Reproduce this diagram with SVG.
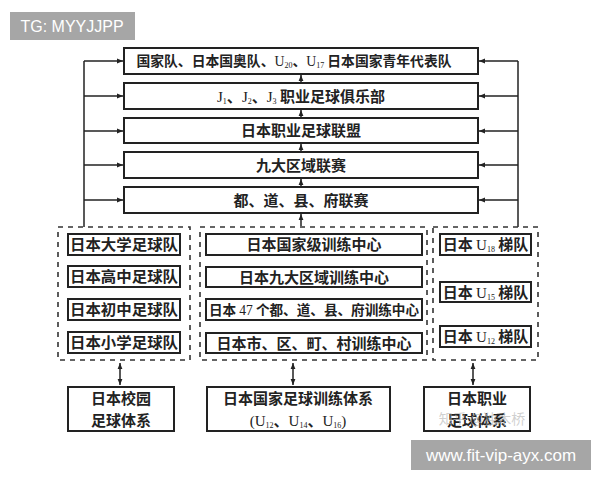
<svg xmlns="http://www.w3.org/2000/svg" width="600" height="480" viewBox="0 0 600 480">
<defs>
<marker id="ah" viewBox="0 0 10 10" refX="10" refY="5" markerWidth="6" markerHeight="6" orient="auto-start-reverse" markerUnits="userSpaceOnUse">
<path d="M0,1 L10,5 L0,9 Z" fill="#222"/>
</marker>
</defs>
<style>
.box{fill:#fff;stroke:#222;stroke-width:2}
.dash{fill:none;stroke:#333;stroke-width:1.6;stroke-dasharray:5,5}
.ln{fill:none;stroke:#222;stroke-width:1.5}
.t{font-family:"Noto Sans CJK SC","Noto Sans",sans-serif;font-weight:700;font-size:15px;fill:#222;text-anchor:middle}
.s{font-family:"Liberation Serif",serif;font-weight:400}
.sub{font-family:"Liberation Serif",serif;font-weight:400;font-size:8px}
</style>
<rect width="600" height="480" fill="#fff"/>
<g id="tg">
<rect x="10" y="12" width="125" height="28" fill="#a6a6a6"/>
<text x="72" y="32" font-family="Liberation Sans,Arial,sans-serif" font-size="16" fill="#fff" text-anchor="middle">TG: MYYJJPP</text>
</g>
<g id="connectors">
<path class="ln" d="M84,227 V61"/>
<path class="ln" d="M84,61 H123" marker-end="url(#ah)"/>
<path class="ln" d="M84,96 H123" marker-end="url(#ah)"/>
<path class="ln" d="M84,131 H123" marker-end="url(#ah)"/>
<path class="ln" d="M84,165 H123" marker-end="url(#ah)"/>
<path class="ln" d="M84,200 H123" marker-end="url(#ah)"/>
<path class="ln" d="M518,227 V61"/>
<path class="ln" d="M518,61 H479" marker-end="url(#ah)"/>
<path class="ln" d="M518,96 H479" marker-end="url(#ah)"/>
<path class="ln" d="M518,131 H479" marker-end="url(#ah)"/>
<path class="ln" d="M518,165 H479" marker-end="url(#ah)"/>
<path class="ln" d="M518,200 H479" marker-end="url(#ah)"/>
<path class="ln" d="M301,83 V75" marker-end="url(#ah)"/>
<path class="ln" d="M301,118 V110" marker-end="url(#ah)"/>
<path class="ln" d="M301,152 V144" marker-end="url(#ah)"/>
<path class="ln" d="M301,187 V179" marker-end="url(#ah)"/>
<path class="ln" d="M301,226 V214" marker-end="url(#ah)"/>
<path class="ln" d="M120,363 V385" marker-start="url(#ah)" marker-end="url(#ah)"/>
<path class="ln" d="M293,363 V385" marker-start="url(#ah)" marker-end="url(#ah)"/>
<path class="ln" d="M473,363 V385" marker-start="url(#ah)" marker-end="url(#ah)"/>
</g>
<g id="n1"><rect class="box" x="124" y="48" width="354" height="26"/>
<text class="t" x="294" y="66" style="font-size:13.8px">国家队、日本国奥队、<tspan class="s">U</tspan><tspan class="sub" dy="2">20</tspan><tspan dy="-2">、</tspan><tspan class="s">U</tspan><tspan class="sub" dy="2">17</tspan><tspan dy="-2"> 日本国家青年代表队</tspan></text></g>
<g id="n2"><rect class="box" x="124" y="83" width="354" height="26"/>
<text class="t" x="301" y="101.5"><tspan class="s">J</tspan><tspan class="sub" dy="2">1</tspan><tspan dy="-2">、</tspan><tspan class="s">J</tspan><tspan class="sub" dy="2">2</tspan><tspan dy="-2">、</tspan><tspan class="s">J</tspan><tspan class="sub" dy="2">3</tspan><tspan dy="-2"> 职业足球俱乐部</tspan></text></g>
<g id="n3"><rect class="box" x="124" y="118" width="354" height="25"/>
<text class="t" x="301" y="136">日本职业足球联盟</text></g>
<g id="n4"><rect class="box" x="124" y="152" width="354" height="26"/>
<text class="t" x="301" y="170.5">九大区域联赛</text></g>
<g id="n5"><rect class="box" x="124" y="187" width="354" height="26"/>
<text class="t" x="301" y="205.5">都、道、县、府联赛</text></g>
<g id="g-left">
<rect class="dash" x="58" y="227" width="132" height="133"/>
<g id="l1"><rect class="box" x="68" y="234" width="112" height="21"/><text class="t" x="124" y="250" textLength="108" lengthAdjust="spacingAndGlyphs">日本大学足球队</text></g>
<g id="l2"><rect class="box" x="68" y="266" width="112" height="21"/><text class="t" x="124" y="282" textLength="108" lengthAdjust="spacingAndGlyphs">日本高中足球队</text></g>
<g id="l3"><rect class="box" x="68" y="299" width="112" height="21"/><text class="t" x="124" y="315" textLength="108" lengthAdjust="spacingAndGlyphs">日本初中足球队</text></g>
<g id="l4"><rect class="box" x="68" y="332" width="112" height="21"/><text class="t" x="124" y="348" textLength="108" lengthAdjust="spacingAndGlyphs">日本小学足球队</text></g>
</g>
<g id="g-mid">
<rect class="dash" x="200" y="227" width="227" height="133"/>
<g id="m1"><rect class="box" x="206" y="234" width="216" height="21"/><text class="t" x="314" y="250">日本国家级训练中心</text></g>
<g id="m2"><rect class="box" x="206" y="267" width="216" height="20"/><text class="t" x="314" y="282.5">日本九大区域训练中心</text></g>
<g id="m3"><rect class="box" x="206" y="299" width="216" height="21"/><text class="t" x="314" y="314.5" style="font-size:13.6px">日本 <tspan class="s">47</tspan> 个都、道、县、府训练中心</text></g>
<g id="m4"><rect class="box" x="206" y="333" width="216" height="20"/><text class="t" x="314" y="348.5">日本市、区、町、村训练中心</text></g>
</g>
<g id="g-right">
<rect class="dash" x="433" y="227" width="105" height="133"/>
<g id="r1"><rect class="box" x="440" y="234" width="91" height="21"/><text class="t" x="485.5" y="250">日本 <tspan class="s">U</tspan><tspan class="sub" dy="2">18</tspan><tspan dy="-2"> 梯队</tspan></text></g>
<g id="r2"><rect class="box" x="440" y="282" width="91" height="20"/><text class="t" x="485.5" y="297.5">日本 <tspan class="s">U</tspan><tspan class="sub" dy="2">15</tspan><tspan dy="-2"> 梯队</tspan></text></g>
<g id="r3"><rect class="box" x="440" y="326" width="91" height="21"/><text class="t" x="485.5" y="342">日本 <tspan class="s">U</tspan><tspan class="sub" dy="2">12</tspan><tspan dy="-2"> 梯队</tspan></text></g>
</g>
<g id="b1"><rect class="box" x="68" y="387" width="106" height="44"/>
<text class="t" x="121" y="404">日本校园</text><text class="t" x="121" y="426">足球体系</text></g>
<g id="b2"><rect class="box" x="207" y="387" width="183" height="44"/>
<text class="t" x="298" y="404">日本国家足球训练体系</text>
<text class="t" x="298" y="426"><tspan class="s">(U</tspan><tspan class="sub" dy="2">12</tspan><tspan dy="-2">、</tspan><tspan class="s">U</tspan><tspan class="sub" dy="2">14</tspan><tspan dy="-2">、</tspan><tspan class="s">U</tspan><tspan class="sub" dy="2">16</tspan><tspan class="s" dy="-2">)</tspan></text></g>
<g id="b3"><rect class="box" x="424" y="387" width="106" height="44"/>
<text class="t" x="477" y="404">日本职业</text><text class="t" x="477" y="426">足球体系</text></g>
<text x="482" y="424" font-family="Noto Sans CJK SC,sans-serif" font-size="14" fill="#bbb" fill-opacity="0.7" text-anchor="middle">知乎 @独木桥</text>
<g id="wm">
<rect x="411" y="440" width="180" height="30" fill="#a6a6a6"/>
<text x="501" y="461" font-family="Liberation Sans,Arial,sans-serif" font-size="17" fill="#fff" text-anchor="middle">www.fit-vip-ayx.com</text>
</g>
</svg>
